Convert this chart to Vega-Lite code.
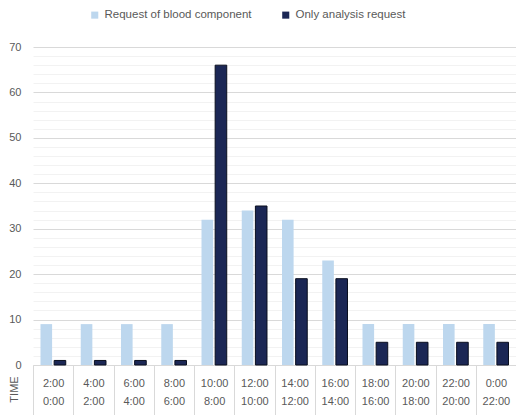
{
  "$schema": "https://vega.github.io/schema/vega-lite/v6.json",
  "width": 483,
  "height": 318,
  "autosize": "none",
  "padding": {"left": 33, "top": 47, "right": 0, "bottom": 50},
  "background": "white",
  "config": {
    "font": "Liberation Sans",
    "view": {"stroke": null},
    "axis": {"labelColor": "#595959", "labelFont": "Liberation Sans", "labelFontSize": 11}
  },
  "data": {
    "values": [
      {"slot": "2:00|0:00", "series": "Request of blood component", "count": 9},
      {"slot": "2:00|0:00", "series": "Only analysis request", "count": 1},
      {"slot": "4:00|2:00", "series": "Request of blood component", "count": 9},
      {"slot": "4:00|2:00", "series": "Only analysis request", "count": 1},
      {"slot": "6:00|4:00", "series": "Request of blood component", "count": 9},
      {"slot": "6:00|4:00", "series": "Only analysis request", "count": 1},
      {"slot": "8:00|6:00", "series": "Request of blood component", "count": 9},
      {"slot": "8:00|6:00", "series": "Only analysis request", "count": 1},
      {"slot": "10:00|8:00", "series": "Request of blood component", "count": 32},
      {"slot": "10:00|8:00", "series": "Only analysis request", "count": 66},
      {"slot": "12:00|10:00", "series": "Request of blood component", "count": 34},
      {"slot": "12:00|10:00", "series": "Only analysis request", "count": 35},
      {"slot": "14:00|12:00", "series": "Request of blood component", "count": 32},
      {"slot": "14:00|12:00", "series": "Only analysis request", "count": 19},
      {"slot": "16:00|14:00", "series": "Request of blood component", "count": 23},
      {"slot": "16:00|14:00", "series": "Only analysis request", "count": 19},
      {"slot": "18:00|16:00", "series": "Request of blood component", "count": 9},
      {"slot": "18:00|16:00", "series": "Only analysis request", "count": 5},
      {"slot": "20:00|18:00", "series": "Request of blood component", "count": 9},
      {"slot": "20:00|18:00", "series": "Only analysis request", "count": 5},
      {"slot": "22:00|20:00", "series": "Request of blood component", "count": 9},
      {"slot": "22:00|20:00", "series": "Only analysis request", "count": 5},
      {"slot": "0:00|22:00", "series": "Request of blood component", "count": 9},
      {"slot": "0:00|22:00", "series": "Only analysis request", "count": 5}
    ]
  },
  "mark": {"type": "bar"},
  "encoding": {
    "x": {
      "field": "slot",
      "type": "nominal",
      "sort": null,
      "scale": {"paddingInner": 0, "paddingOuter": 0},
      "axis": {
        "title": "TIME",
        "titleAngle": 270,
        "titleX": -19,
        "titleY": 24,
        "titleAlign": "center",
        "titleBaseline": "middle",
        "titleColor": "#595959",
        "titleFontSize": 11,
        "titleFontWeight": "normal",
        "labelAngle": 0,
        "labelExpr": "split(datum.label, '|')",
        "labelBaseline": "middle",
        "labelLineHeight": 18,
        "labelPadding": -32,
        "tickBand": "extent",
        "tickSize": 50,
        "tickColor": "#d9d9d9",
        "domainColor": "#d9d9d9",
        "grid": false
      }
    },
    "xOffset": {
      "field": "series",
      "type": "nominal",
      "sort": ["Request of blood component", "Only analysis request"],
      "scale": {"paddingInner": 0.15, "paddingOuter": 0.55}
    },
    "y": {
      "field": "count",
      "type": "quantitative",
      "scale": {"domain": [0, 70]},
      "axis": {
        "title": null,
        "values": [0, 2, 4, 6, 8, 10, 12, 14, 16, 18, 20, 22, 24, 26, 28, 30, 32, 34, 36, 38, 40, 42, 44, 46, 48, 50, 52, 54, 56, 58, 60, 62, 64, 66, 68, 70],
        "labelExpr": "datum.value % 10 === 0 ? datum.label : ''",
        "ticks": false,
        "domain": false,
        "labelPadding": 12,
        "gridColor": {"condition": {"test": "datum.value % 10 === 0", "value": "#d9d9d9"}, "value": "#f2f2f2"}
      }
    },
    "color": {
      "field": "series",
      "type": "nominal",
      "sort": ["Request of blood component", "Only analysis request"],
      "scale": {"range": ["#bdd7ee", "#1b2755"]},
      "legend": {
        "title": null,
        "orient": "none",
        "direction": "horizontal",
        "legendX": 56,
        "legendY": -38,
        "symbolType": "square",
        "symbolSize": 50,
        "symbolStrokeWidth": 0,
        "labelColor": "#595959",
        "labelFontSize": 11.5,
        "labelOffset": 4,
        "columnPadding": 28
      }
    },
    "stroke": {
      "condition": {"test": "datum.series === 'Only analysis request'", "value": "#0a0f1f"},
      "value": null
    }
  }
}
